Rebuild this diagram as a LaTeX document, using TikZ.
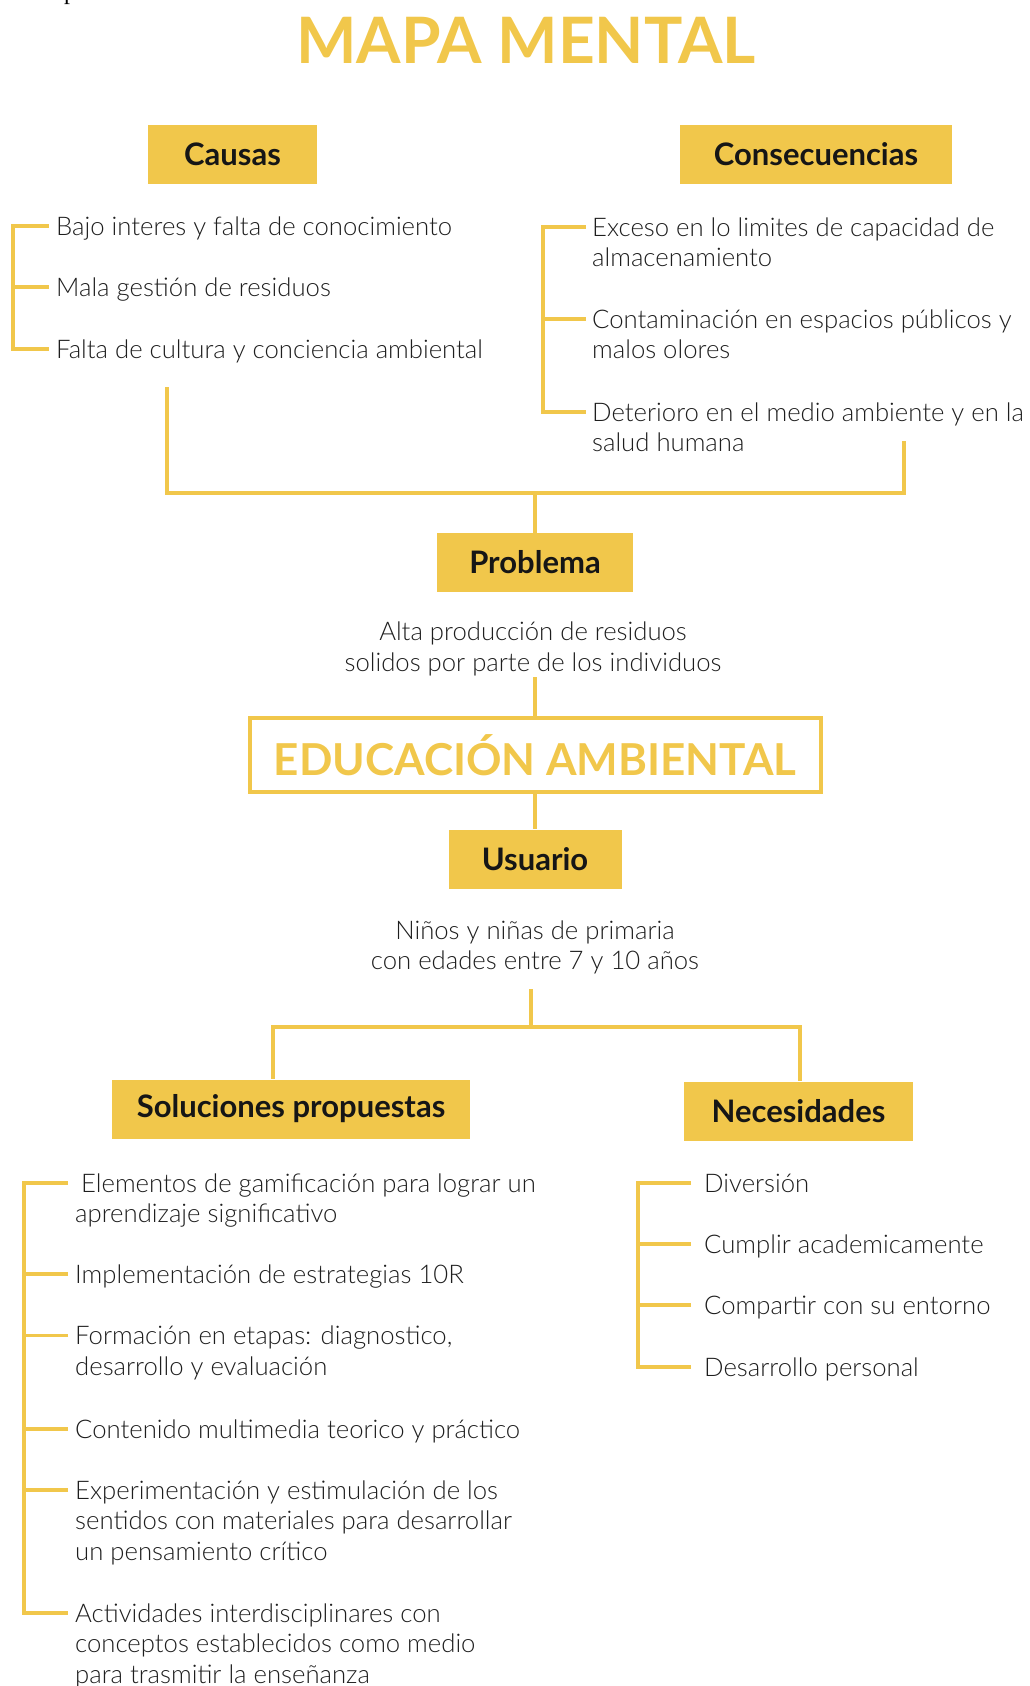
\documentclass[tikz,border=0pt]{standalone}
\usepackage{fontspec}
\setmainfont{Lato}
\newfontfamily\lightfont{Lato Light}
\newfontfamily\serifcut{Liberation Serif}
\definecolor{mustard}{HTML}{F1C74B}
\definecolor{ink}{HTML}{1E1E1E}
\definecolor{headink}{HTML}{161616}
% stacked lines whose baseline is the first line
\newcommand\twol[2]{\vtop{\hbox{#1}\hbox{#2}}}
\newcommand\threel[3]{\vtop{\hbox{#1}\hbox{#2}\hbox{#3}}}

\begin{document}
\begin{tikzpicture}[x=1pt,y=-1pt,
  headbox/.style={fill=mustard, inner sep=0pt, minimum height=59pt,
    font=\fontsize{31}{34}\selectfont\bfseries, text=headink},
  item/.style={anchor=base west, inner sep=0pt,
    font=\lightfont\fontsize{25.7}{30.5}\selectfont, text=ink},
  plain/.style={align=center, inner sep=0pt,
    font=\lightfont\fontsize{25.7}{30.5}\selectfont, text=ink},
  link/.style={draw=mustard, line width=3.5pt},
  brace/.style={draw=mustard, line width=3.5pt}]
\useasboundingbox (0,0) rectangle (1030,1686);

% fragment of a line of text above the page edge
\node[anchor=base west, inner sep=0pt, font=\serifcut\fontsize{24}{24}\selectfont] (cut) at (64,0) {p};

% title
\node[font=\fontsize{64}{64}\selectfont\bfseries, text=mustard, inner sep=0pt] (title) at (526,40) {MAPA MENTAL};

% causes and consequences
\node[headbox, minimum width=169pt] (causas) at (232.5,154) {Causas};
\node[headbox, minimum width=272pt] (consec) at (816,154) {Consecuencias};

\node[item] (c1) at (56,235) {Bajo interes y falta de conocimiento};
\node[item] (c2) at (56,296) {Mala gestión de residuos};
\node[item] (c3) at (56,358) {Falta de cultura y conciencia ambiental};
\draw[brace] ([xshift=-7pt,yshift=9pt]c1.base west) -- ++(-36,0) |- ([xshift=-7pt,yshift=9pt]c3.base west);
\draw[brace] ([xshift=-7pt,yshift=9pt]c2.base west) -- ++(-36,0);

\node[item] (k1) at (592,236) {\twol{Exceso en lo limites de capacidad de}{almacenamiento}};
\node[item] (k2) at (592,328) {\twol{Contaminación en espacios públicos y}{malos olores}};
\node[item] (k3) at (592,421) {\twol{Deterioro en el medio ambiente y en la}{salud humana}};
\draw[brace] ([xshift=-6pt,yshift=9pt]k1.base west) -- ++(-43,0) |- ([xshift=-6pt,yshift=9pt]k3.base west);
\draw[brace] ([xshift=-6pt,yshift=9pt]k2.base west) -- ++(-43,0);

% joining causes and consequences into the problem
\coordinate (causasEnd) at (167,387);
\coordinate (consecEnd) at (904,441);
\coordinate (hubA) at (535,493);
\draw[link] (causasEnd) |- (hubA) -| (consecEnd);

\node[headbox, minimum width=196pt] (prob) at (535,562.5) {Problema};
\draw[link] (hubA) -- (prob.north);

\node[plain] (probtext) at (533,649) {Alta producción de residuos\\solidos por parte de los individuos};

\coordinate (probEnd) at (535,677);
\node[draw=mustard, line width=4pt, inner sep=0pt, minimum width=571pt, minimum height=73.5pt,
  font=\fontsize{44}{44}\selectfont\bfseries, text=mustard] (edu) at (535,755) {EDUCACIÓN AMBIENTAL};
\draw[link] (probEnd) -- (edu.north);

\node[headbox, minimum width=173pt] (usuario) at (535,859) {Usuario};
\draw[link] (edu.south) -- (usuario.north);

\node[plain] (usertext) at (535,947.5) {Niños y niñas de primaria\\con edades entre 7 y 10 años};

% split into solutions and needs
\coordinate (userEnd) at (531,989);
\coordinate (hubB) at (531,1027);
\node[headbox, minimum width=358pt] (sol) at (291,1109) {Soluciones propuestas};
\node[headbox, minimum width=229pt] (nec) at (798.5,1111) {Necesidades};
\draw[link] (userEnd) -- (hubB);
\draw[link] (hubB) -| ([xshift=-18pt]sol.north);
\draw[link] (hubB) -| ([xshift=1.5pt]nec.north);

\node[item] (s1) at (75,1192) {\twol{\hspace*{6pt}Elementos de gamificación para lograr un}{aprendizaje significativo}};
\node[item] (s2) at (75,1283) {Implementación de estrategias 10R};
\node[item] (s3) at (75,1344.5) {\twol{Formación en etapas: diagnostico,}{desarrollo y evaluación}};
\node[item] (s4) at (75,1438) {Contenido multimedia teorico y práctico};
\node[item] (s5) at (75,1499) {\threel{Experimentación y estimulación de los}{sentidos con materiales para desarrollar}{un pensamiento crítico}};
\node[item] (s6) at (75,1622) {\threel{Actividades interdisciplinares con}{conceptos establecidos como medio}{para trasmitir la enseñanza}};
\draw[brace] ([xshift=-7pt,yshift=9pt]s1.base west) -- ++(-44,0) |- ([xshift=-7pt,yshift=9pt]s6.base west);
\foreach \n in {s2,s3,s4,s5}
  \draw[brace] ([xshift=-7pt,yshift=9pt]\n.base west) -- ++(-44,0);

\node[item] (n1) at (704,1192) {Diversión};
\node[item] (n2) at (704,1253) {Cumplir academicamente};
\node[item] (n3) at (704,1314) {Compartir con su entorno};
\node[item] (n4) at (704,1376) {Desarrollo personal};
\draw[brace] ([xshift=-13pt,yshift=9pt]n1.base west) -- ++(-53,0) |- ([xshift=-13pt,yshift=9pt]n4.base west);
\foreach \n in {n2,n3}
  \draw[brace] ([xshift=-13pt,yshift=9pt]\n.base west) -- ++(-53,0);
\end{tikzpicture}
\end{document}
